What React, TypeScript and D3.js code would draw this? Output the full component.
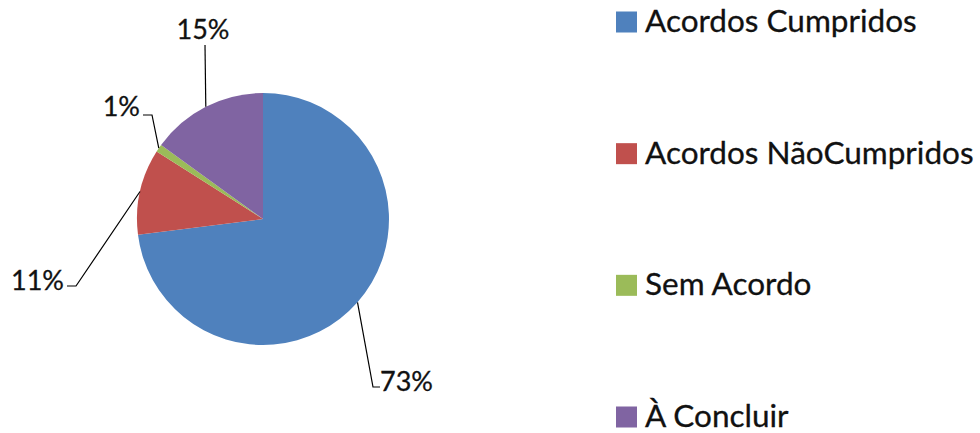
import React from "react";
import * as d3 from "d3";

const categories = ["Acordos Cumpridos", "Acordos NãoCumpridos", "Sem Acordo", "À Concluir"];
const values = [73, 11, 1, 15];
const labels = ["73%", "11%", "1%", "15%"];
const colors = ["#4F81BD", "#C0504D", "#9BBB59", "#8064A2"];

// label layout: text anchor point, anchor, and elbow point for the leader line
const labelLayout = [
  { tx: 380, ty: 391, anchor: "start", ex: 373, ey: 387, end: [380, 387] },
  { tx: 64, ty: 290, anchor: "end", ex: 76, ey: 286, end: [67, 286] },
  { tx: 140, ty: 116, anchor: "end", ex: 152, ey: 115, end: [143, 115] },
  { tx: 203, ty: 39, anchor: "middle", ex: 205, ey: 45, end: [205, 45] },
];

const W = 980;
const H = 433;
const cx = 263;
const cy = 219;
const R = 126;

export default function App() {
  const pie = d3.pie<number>().sort(null).value((d) => d)(values);
  const arc = d3.arc<d3.PieArcDatum<number>>().innerRadius(0).outerRadius(R);
  const font = "Lato, 'Open Sans', sans-serif";

  const legendY = d3.scalePoint<string>().domain(categories).range([22, 417]);

  return (
    <svg width={W} height={H} style={{ position: "absolute", left: 0, top: 0, background: "#fff" }}>
      <g transform={`translate(${cx},${cy})`}>
        {pie.map((p, i) => (
          <path key={i} d={arc(p) || ""} fill={colors[i]} />
        ))}
      </g>
      {pie.map((p, i) => {
        const mid = (p.startAngle + p.endAngle) / 2;
        const sx = cx + R * Math.sin(mid);
        const sy = cy - R * Math.cos(mid);
        const L = labelLayout[i];
        const pts = [[sx, sy], [L.ex, L.ey], L.end];
        const line = d3.line()(pts as [number, number][]) || "";
        return (
          <g key={i}>
            <path d={line} fill="none" stroke="#000" strokeWidth={1.2} />
            <text
              x={L.tx}
              y={L.ty}
              textAnchor={L.anchor as any}
              fontFamily={font}
              fontSize={27}
              fill="#111"
              stroke="#111"
              strokeWidth={0.3}
            >
              {labels[i]}
            </text>
          </g>
        );
      })}
      {categories.map((c, i) => (
        <g key={c} transform={`translate(616,${legendY(c)})`}>
          <rect x={0} y={-10.5} width={21} height={21} fill={colors[i]} />
          <text x={29} y={10} fontFamily={font} fontSize={31.5} fill="#111" stroke="#111" strokeWidth={0.3}>
            {c}
          </text>
        </g>
      ))}
    </svg>
  );
}
